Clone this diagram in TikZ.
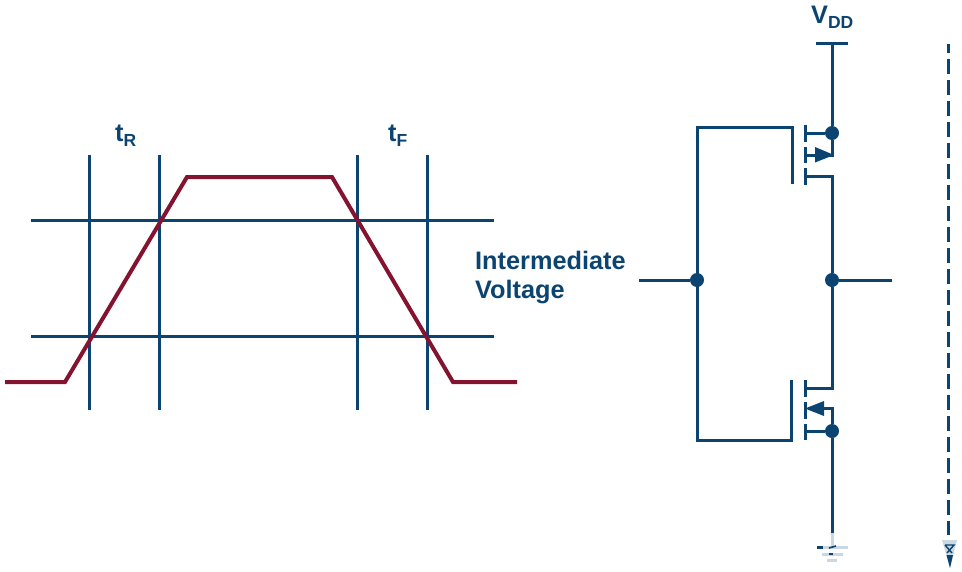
\documentclass[tikz,border=0pt]{standalone}
\usepackage{fontspec}
\setmainfont{Liberation Sans}
\definecolor{navy}{HTML}{0B4470}
\definecolor{wine}{HTML}{83132F}
\definecolor{pale}{HTML}{CBD8E2}
\tikzset{
 wire/.style={draw=navy,line width=3pt},
 wave/.style={draw=wine,line width=4pt,line join=miter},
 lbl/.style={text=navy,font=\fontsize{25.3}{29.5}\selectfont\bfseries,inner sep=0pt,align=left},
 dotn/.style={circle,fill=navy,inner sep=0pt,minimum size=14pt},
 tip/.style={fill=navy,draw=none},
 faint/.style={draw=pale,line width=3pt}
}
\newcommand{\sbs}[2]{#1{\fontsize{17.5}{17.5}\selectfont\raisebox{-5pt}{#2}}}
\begin{document}
\begin{tikzpicture}[x=1pt,y=-1pt]
\useasboundingbox (0,0) rectangle (962,571);
% timing grid
\foreach \n/\x in {a/89,b/159,c/357,d/427}{
 \coordinate (\n1) at (\x,155); \coordinate (\n2) at (\x,410);
 \draw[wire] (\n1) -- (\n2);
}
\foreach \n/\y in {h/220.5,l/336.5}{
 \coordinate (\n1) at (31,\y); \coordinate (\n2) at (494,\y);
 \draw[wire] (\n1) -- (\n2);
}
\coordinate (w0) at (5,382); \coordinate (w1) at (65,382); \coordinate (w2) at (187,177);
\coordinate (w3) at (332,177); \coordinate (w4) at (453,382); \coordinate (w5) at (517,382);
\draw[wave] (w0) -- (w1) -- (w2) -- (w3) -- (w4) -- (w5);
\node[lbl,anchor=base west] (tr) at (115,141) {\sbs{t}{R}};
\node[lbl,anchor=base west] (tf) at (388,141) {\sbs{t}{F}};
\node[lbl,anchor=base west] (vdd) at (811,23) {\sbs{V}{DD}};
\node[lbl,anchor=west] (iv) at (475,277.5) {Intermediate\\Voltage};
% nodes of the inverter
\node[dotn] (in) at (697,280) {};
\node[dotn] (out) at (832,280) {};
\node[dotn] (ps) at (832,133) {};
\node[dotn] (ns) at (832,431) {};
\coordinate (vl) at (816,43); \coordinate (vr) at (848,43); \coordinate (vm) at (832,43);
\coordinate (il) at (639,280); \coordinate (or) at (892,280);
\coordinate (gt) at (697,127); \coordinate (gb) at (697,440);
\coordinate (pg) at (792,127); \coordinate (pge) at (792,184);
\coordinate (ng) at (791,440); \coordinate (nge) at (791,380);
\draw[wire] (vl) -- (vr);
\draw[wire] (vm) -- (ps);
\draw[wire] (il) -- (in);
\draw[wire] (out) -- (or);
\draw[wire,line join=miter] (pge) -- (pg) -- (gt) -- (gb) -- (ng) -- (nge);
% PMOS
\draw[wire] (805,125) -- (805,142);
\draw[wire] (805,147) -- (805,163);
\draw[wire] (805,168) -- (805,185);
\draw[wire] (805,133) -- (ps);
\draw[wire] (ps) -- (832,155) -- (805,155);
\draw[wire,line join=miter] (805,176.5) -- (832,176.5) -- (out);
\fill[tip] (815,147) -- (834,155) -- (815,162.5) -- cycle;
% NMOS
\draw[wire] (805,380) -- (805,397);
\draw[wire] (805,402) -- (805,419);
\draw[wire] (805,424) -- (805,440);
\draw[wire,line join=miter] (805,388.5) -- (832,388.5) -- (out);
\draw[wire] (805,431) -- (ns);
\draw[wire,line join=miter] (ns) -- (832,408.5) -- (815,408.5);
\fill[tip] (824,401) -- (805,408.5) -- (824,416) -- cycle;
% ground
\coordinate (g1) at (832,547);
\draw[wire] (ns) -- (832,533);
\draw[faint] (832,533) -- (g1);
\draw[faint] (817,547.5) -- (848,547.5);
\draw[wire] (817,547.5) -- (823,547.5);
\draw[wire,line width=1.6pt] (829,548) -- (836,546);
\draw[faint] (822,554) -- (843,554);
\draw[wire,line width=1.2pt] (829,554) -- (833,554);
\draw[faint] (827,560.5) -- (837,560.5);
% dashed rail
\coordinate (d1) at (948,44); \coordinate (d2) at (948,535);
\draw[wire,dash pattern=on 15pt off 6pt,dash phase=6pt] (d1) -- (d2);
\fill[pale] (942,540) -- (957,540) -- (950,568) -- cycle;
\draw[navy,line width=1.4pt] (945,545) -- (954,545) -- (947,553) (945,545) -- (952,553);
\fill[tip] (946.5,555) -- (953,555) -- (950,568) -- cycle;
\end{tikzpicture}
\end{document}
